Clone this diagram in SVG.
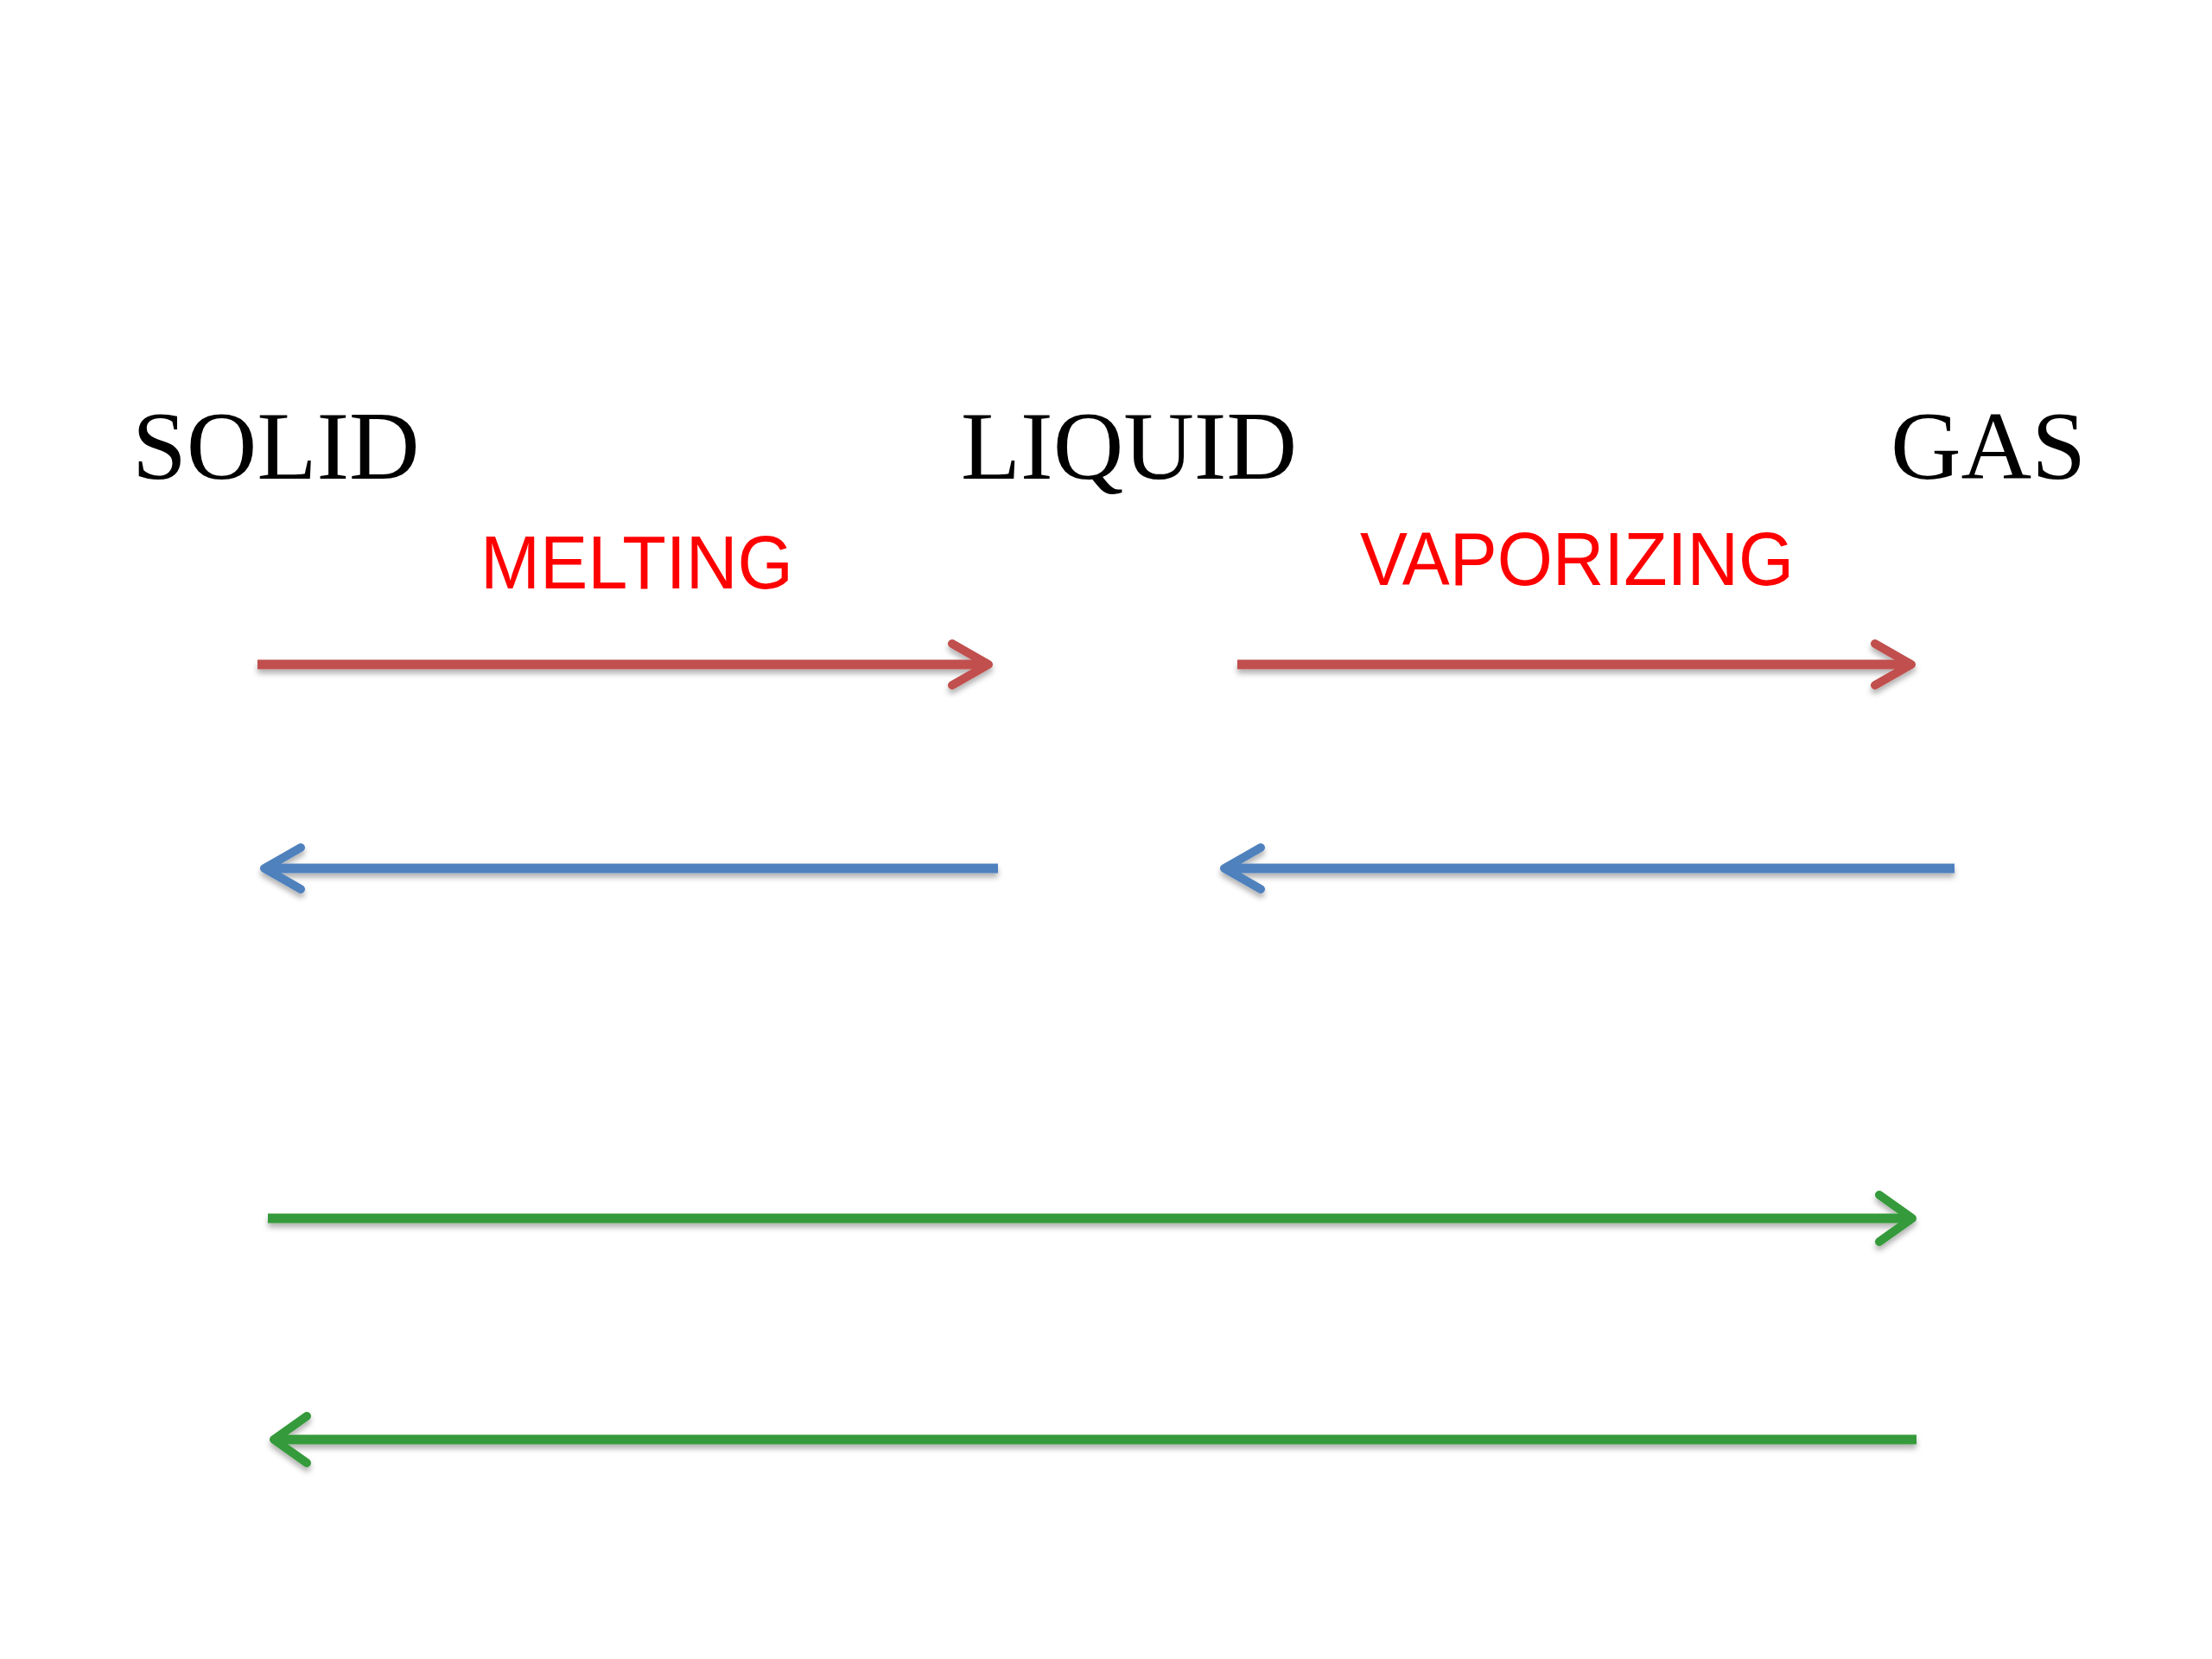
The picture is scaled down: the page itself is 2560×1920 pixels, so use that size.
<svg xmlns="http://www.w3.org/2000/svg" width="2560" height="1920" viewBox="0 0 2560 1920">
  <style>
    .state { font-family: "Liberation Serif", "Times New Roman", serif; font-size: 113px; fill: #000000; }
    .proc { font-family: "Liberation Sans", Arial, sans-serif; font-size: 87px; fill: #ff0000; }
    .arrow { fill: none; stroke-width: 11; stroke-linecap: butt; }
    .red { stroke: #c0504d; }
    .blue { stroke: #4f81bd; }
    .green { stroke: #359a3a; }
  </style>
  <defs>
    <filter id="shadow" x="-5%" y="-100%" width="110%" height="300%">
      <feDropShadow dx="0" dy="5" stdDeviation="3" flood-color="#000000" flood-opacity="0.3"/>
    </filter>
    <marker id="headRed" viewBox="-60 -35 70 70" markerWidth="70" markerHeight="70" refX="0" refY="0" markerUnits="userSpaceOnUse" orient="auto">
      <path d="M -42 -24 L 0 0 L -42 24" fill="none" stroke="#c0504d" stroke-width="10" stroke-linecap="round" stroke-linejoin="round"/>
    </marker>
    <marker id="headBlue" viewBox="-60 -35 70 70" markerWidth="70" markerHeight="70" refX="0" refY="0" markerUnits="userSpaceOnUse" orient="auto">
      <path d="M -42 -24 L 0 0 L -42 24" fill="none" stroke="#4f81bd" stroke-width="10" stroke-linecap="round" stroke-linejoin="round"/>
    </marker>
    <marker id="headGreen" viewBox="-60 -35 70 70" markerWidth="70" markerHeight="70" refX="0" refY="0" markerUnits="userSpaceOnUse" orient="auto">
      <path d="M -38 -27 L 0 0 L -38 27" fill="none" stroke="#359a3a" stroke-width="10" stroke-linecap="round" stroke-linejoin="round"/>
    </marker>
  </defs>
  <rect x="0" y="0" width="2560" height="1920" fill="#ffffff"/>

  <g id="node-solid">
    <text class="state" x="153" y="554">SOLID</text>
  </g>
  <g id="node-liquid">
    <text class="state" x="1112" y="554">LIQUID</text>
  </g>
  <g id="node-gas">
    <text class="state" x="2188" y="554">GAS</text>
  </g>
  <g id="label-melting">
    <text class="proc" x="556" y="681" textLength="362" lengthAdjust="spacingAndGlyphs">MELTING</text>
  </g>
  <g id="label-vaporizing">
    <text class="proc" x="1574" y="677" textLength="502" lengthAdjust="spacingAndGlyphs">VAPORIZING</text>
  </g>

  <g id="connectors" filter="url(#shadow)">
    <line class="arrow red" x1="298" y1="769" x2="1144" y2="769" marker-end="url(#headRed)"/>
    <line class="arrow red" x1="1432" y1="769" x2="2212" y2="769" marker-end="url(#headRed)"/>
    <line class="arrow blue" x1="1155" y1="1005" x2="306" y2="1005" marker-end="url(#headBlue)"/>
    <line class="arrow blue" x1="2262" y1="1005" x2="1417" y2="1005" marker-end="url(#headBlue)"/>
    <line class="arrow green" x1="310" y1="1410" x2="2213" y2="1410" marker-end="url(#headGreen)"/>
    <line class="arrow green" x1="2218" y1="1666" x2="317" y2="1666" marker-end="url(#headGreen)"/>
  </g>
</svg>
